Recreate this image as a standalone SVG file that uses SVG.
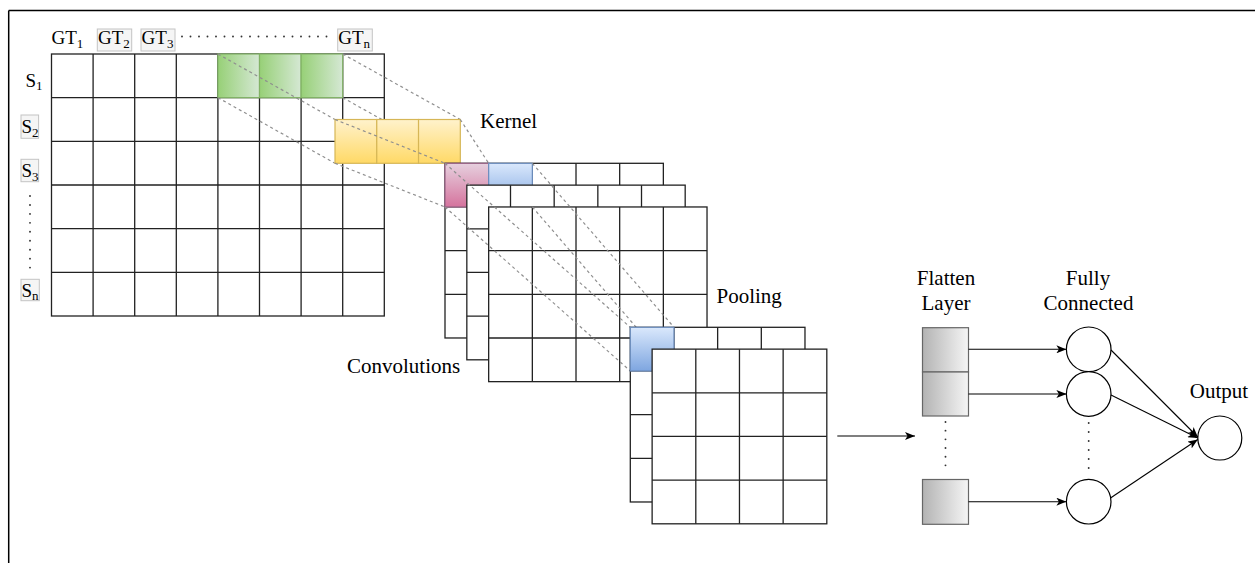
<svg xmlns="http://www.w3.org/2000/svg" xmlns:xlink="http://www.w3.org/1999/xlink" width="1255" height="563" viewBox="0 0 1255 563">
  <style>
    .grid { fill: #ffffff; stroke: #222222; stroke-width: 1.3; }
    .gl { fill: none; stroke: #222222; stroke-width: 1.3; }
    .dash { fill: none; stroke: #8f8f8f; stroke-width: 1.2; stroke-dasharray: 3 3; }
    .dots { fill: none; stroke: #333333; stroke-width: 1.9; stroke-linecap: round; }
    .lbl { font-family: "Liberation Serif", "Times New Roman", serif; font-size: 21px; fill: #000000; }
    .idx { font-family: "Liberation Serif", "Times New Roman", serif; font-size: 19px; fill: #000000; }
    .sub { font-size: 13px; }
    .tag { fill: #f5f5f5; stroke: #c4c4c4; stroke-width: 1; }
    .wire { fill: none; stroke: #000000; stroke-width: 1.1; marker-end: url(#arrow); }
    .node { fill: #ffffff; stroke: #000000; stroke-width: 1.2; }
    .flat { fill: url(#gGray); stroke: #666666; stroke-width: 1.2; }
  </style>
  <defs>
    <linearGradient id="gGreen" x1="0" y1="0" x2="1" y2="0">
      <stop offset="0" stop-color="#97d077"/>
      <stop offset="1" stop-color="#d5e8d4"/>
    </linearGradient>
    <linearGradient id="gYellow" x1="0" y1="0" x2="0" y2="1">
      <stop offset="0" stop-color="#fff2cc"/>
      <stop offset="1" stop-color="#ffd966"/>
    </linearGradient>
    <linearGradient id="gPink" x1="0" y1="0" x2="0" y2="1">
      <stop offset="0" stop-color="#e6d0de"/>
      <stop offset="1" stop-color="#d5739d"/>
    </linearGradient>
    <linearGradient id="gBlue" x1="0" y1="0" x2="0" y2="1">
      <stop offset="0" stop-color="#dae8fc"/>
      <stop offset="1" stop-color="#7ea6e0"/>
    </linearGradient>
    <linearGradient id="gGray" x1="0" y1="0" x2="1" y2="0">
      <stop offset="0" stop-color="#b3b3b3"/>
      <stop offset="1" stop-color="#f5f5f5"/>
    </linearGradient>
    <marker id="arrow" viewBox="0 0 10 8" refX="10" refY="4" markerWidth="10" markerHeight="8" markerUnits="userSpaceOnUse" orient="auto">
      <path d="M0,0 L10,4 L0,8 L2.5,4 Z" fill="#000000"/>
    </marker>
    <!-- 5 x 4 feature map, cell 43.67 -->
    <g id="map5x4">
      <rect class="grid" x="0" y="0" width="218.35" height="174.68"/>
      <path class="gl" d="M43.67,0V174.68 M87.34,0V174.68 M131.01,0V174.68 M174.68,0V174.68 M0,43.67H218.35 M0,87.34H218.35 M0,131.01H218.35"/>
    </g>
    <!-- 4 x 4 pooled map -->
    <g id="map4x4">
      <rect class="grid" x="0" y="0" width="174.68" height="174.68"/>
      <path class="gl" d="M43.67,0V174.68 M87.34,0V174.68 M131.01,0V174.68 M0,43.67H174.68 M0,87.34H174.68 M0,131.01H174.68"/>
    </g>
  </defs>

  <rect x="0" y="0" width="1255" height="563" fill="#ffffff"/>

  <!-- page frame -->
  <g id="frame">
    <path d="M8.7,10.5H1255 M8.7,10.5V563" fill="none" stroke="#000000" stroke-width="1.5"/>
  </g>

  <!-- column / row labels -->
  <g id="col-labels">
    <text class="idx" x="51.5" y="44">GT<tspan class="sub" dy="4">1</tspan></text>
    <rect class="tag" x="97.3" y="29" width="34.4" height="22"/>
    <text class="idx" x="98" y="44">GT<tspan class="sub" dy="4">2</tspan></text>
    <rect class="tag" x="141" y="29" width="34" height="22"/>
    <text class="idx" x="141.6" y="44">GT<tspan class="sub" dy="4">3</tspan></text>
    <line class="dots" x1="182" y1="36.5" x2="335" y2="36.5" stroke-dasharray="0 8.5"/>
    <rect class="tag" x="337.7" y="29" width="34.6" height="22"/>
    <text class="idx" x="338.2" y="44">GT<tspan class="sub" dy="4">n</tspan></text>
  </g>
  <g id="row-labels">
    <text class="idx" x="25.5" y="86.5">S<tspan class="sub" dy="3.5">1</tspan></text>
    <rect class="tag" x="21" y="115" width="17.6" height="23.3"/>
    <text class="idx" x="21.5" y="133.3">S<tspan class="sub" dy="4">2</tspan></text>
    <rect class="tag" x="21" y="159.3" width="17.6" height="22.4"/>
    <text class="idx" x="21.5" y="177.3">S<tspan class="sub" dy="3.5">3</tspan></text>
    <line class="dots" x1="30" y1="196" x2="30" y2="268" stroke-dasharray="0 8.95"/>
    <rect class="tag" x="21" y="279.3" width="18.3" height="21.4"/>
    <text class="idx" x="21.5" y="297">S<tspan class="sub" dy="3">n</tspan></text>
  </g>

  <!-- input matrix -->
  <g id="input">
    <rect class="grid" x="51.5" y="54" width="332.8" height="262"/>
    <path class="gl" d="M93.1,54V316 M134.7,54V316 M176.3,54V316 M217.9,54V316 M259.5,54V316 M301.1,54V316 M342.7,54V316 M51.5,97.67H384.3 M51.5,141.33H384.3 M51.5,185H384.3 M51.5,228.67H384.3 M51.5,272.33H384.3"/>
  </g>
  <g id="window">
    <rect x="217.9" y="54" width="41.6" height="43.67" fill="url(#gGreen)" stroke="#82b366" stroke-width="1.2"/>
    <rect x="259.5" y="54" width="41.6" height="43.67" fill="url(#gGreen)" stroke="#82b366" stroke-width="1.2"/>
    <rect x="301.1" y="54" width="41.6" height="43.67" fill="url(#gGreen)" stroke="#82b366" stroke-width="1.2"/>
  </g>

  <g id="connectors">
    <!-- window to kernel -->
    <path class="dash" d="M217.9,54L335,119.5 M342.7,54L460.3,119.5 M217.9,97.67L335,163.3 M342.7,97.67L460.3,163.3"/>
  </g>

  <g id="kernel">
    <rect x="335" y="119.5" width="41.77" height="43.8" fill="url(#gYellow)" stroke="#d6b656" stroke-width="1.2"/>
    <rect x="376.77" y="119.5" width="41.77" height="43.8" fill="url(#gYellow)" stroke="#d6b656" stroke-width="1.2"/>
    <rect x="418.54" y="119.5" width="41.77" height="43.8" fill="url(#gYellow)" stroke="#d6b656" stroke-width="1.2"/>
    <text class="lbl" x="480" y="127.5">Kernel</text>
  </g>

  <g id="connectors-kernel">
    <!-- kernel to first feature map -->
    <path class="dash" d="M335,119.5L445,163.3 M460.3,119.5L488.67,163.3 M335,163.3L445,206.97 M460.3,163.3L488.67,206.97"/>
  </g>

  <g id="convolutions">
    <use xlink:href="#map5x4" x="445" y="163.3"/>
    <rect x="445" y="163.3" width="43.67" height="43.67" fill="url(#gPink)" stroke="#996185" stroke-width="1.2"/>
    <rect x="488.67" y="163.3" width="43.67" height="43.67" fill="url(#gBlue)" stroke="#6c8ebf" stroke-width="1.2"/>
    <use xlink:href="#map5x4" x="466.83" y="185.13"/>
    <use xlink:href="#map5x4" x="488.67" y="206.97"/>
    <text class="lbl" x="347" y="373">Convolutions</text>
  </g>

  <g id="connectors-pool">
    <!-- feature map window to pooled cell -->
    <path class="dash" d="M445,163.3L630.3,327.3 M532.34,163.3L673.97,327.3 M445,206.97L630.3,370.97 M532.34,206.97L673.97,370.97"/>
  </g>

  <g id="pooling">
    <use xlink:href="#map4x4" x="630.3" y="327.3"/>
    <rect x="630.3" y="327.3" width="43.67" height="43.67" fill="url(#gBlue)" stroke="#6c8ebf" stroke-width="1.2"/>
    <use xlink:href="#map4x4" x="652.13" y="349.13"/>
    <text class="lbl" x="716.5" y="302.5">Pooling</text>
  </g>

  <g id="flatten">
    <rect class="flat" x="922.5" y="327.7" width="46" height="44.3"/>
    <rect class="flat" x="922.5" y="372" width="46" height="44"/>
    <line class="dots" x1="945.5" y1="422" x2="945.5" y2="474" stroke-dasharray="0 8.67"/>
    <rect class="flat" x="922.5" y="479.5" width="46" height="44.8"/>
    <text class="lbl" x="946" y="285" text-anchor="middle">Flatten</text>
    <text class="lbl" x="946" y="310" text-anchor="middle">Layer</text>
  </g>

  <g id="fully-connected">
    <circle class="node" cx="1088.7" cy="349.3" r="22.3"/>
    <circle class="node" cx="1088.7" cy="394" r="22.3"/>
    <line class="dots" x1="1088.7" y1="423" x2="1088.7" y2="477" stroke-dasharray="0 9"/>
    <circle class="node" cx="1088.7" cy="501.7" r="22.3"/>
    <text class="lbl" x="1088" y="285" text-anchor="middle">Fully</text>
    <text class="lbl" x="1088.5" y="310" text-anchor="middle">Connected</text>
  </g>

  <g id="output">
    <circle class="node" cx="1219.8" cy="438" r="22"/>
    <text class="lbl" x="1219" y="398" text-anchor="middle">Output</text>
  </g>

  <g id="edges">
    <line class="wire" x1="837.3" y1="436" x2="915" y2="436"/>
    <line class="wire" x1="968.5" y1="349.3" x2="1066.4" y2="349.3"/>
    <line class="wire" x1="968.5" y1="394" x2="1066.4" y2="394"/>
    <line class="wire" x1="968.5" y1="501.7" x2="1066.4" y2="501.7"/>
    <line class="wire" x1="1111" y1="350" x2="1197.8" y2="437"/>
    <line class="wire" x1="1111" y1="395" x2="1197.8" y2="438"/>
    <line class="wire" x1="1110.5" y1="498" x2="1197.8" y2="439.5"/>
  </g>
</svg>
